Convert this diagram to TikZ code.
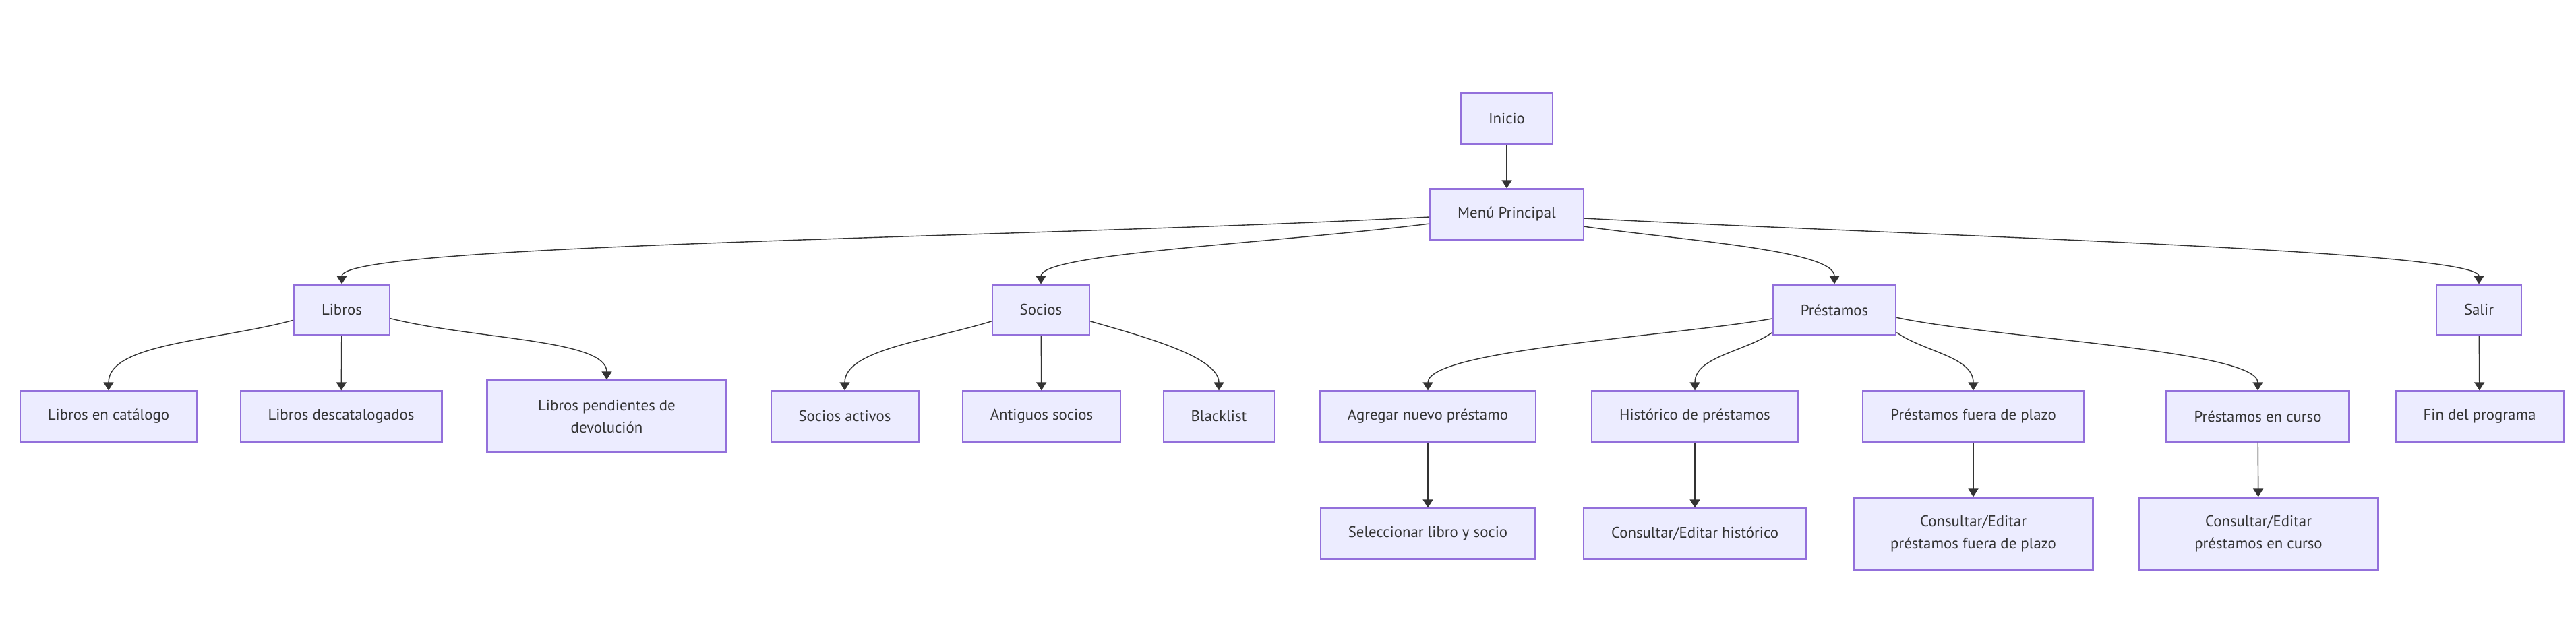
\documentclass[tikz,border=0pt]{standalone}
\usepackage{fontspec}
\setmainfont{PT Sans}
\usetikzlibrary{arrows.meta}
\definecolor{boxfill}{HTML}{ECECFF}
\definecolor{boxline}{HTML}{9370DB}
\definecolor{ink}{HTML}{333333}
\begin{document}
\begin{tikzpicture}[
  box/.style={draw=boxline, fill=boxfill, line width=0.6pt, text=ink, minimum height=0.75cm, inner xsep=0.41cm, font=\fontsize{6.5}{9.4}\selectfont},
  box2/.style={box, align=center, minimum width=3.55cm, minimum height=1.07cm},
  arr/.style={draw=ink, line width=0.4pt, -{Triangle[length=0.12cm, width=0.15cm]}}
]
\useasboundingbox (0,0) rectangle (38.21,9.43);
\node[box] (inicio) at (22.35,7.67) {Inicio};
\node[box] (menu) at (22.35,6.25) {Menú Principal};
\node[box] (libros) at (5.07,4.83) {Libros};
\node[box] (socios) at (15.44,4.83) {Socios};
\node[box] (prestamos) at (27.21,4.83) {Préstamos};
\node[box] (salir) at (36.77,4.83) {Salir};
\node[box] (catalogo) at (1.61,3.25) {Libros en catálogo};
\node[box] (descat) at (5.06,3.25) {Libros descatalogados};
\node[box2] (pendientes) at (9.00,3.25) {Libros pendientes de\\devolución};
\node[box] (activos) at (12.53,3.25) {Socios activos};
\node[box] (antiguos) at (15.45,3.25) {Antiguos socios};
\node[box] (blacklist) at (18.08,3.25) {Blacklist};
\node[box] (agregar) at (21.18,3.25) {Agregar nuevo préstamo};
\node[box] (historico) at (25.14,3.25) {Histórico de préstamos};
\node[box] (fuera) at (29.27,3.25) {Préstamos fuera de plazo};
\node[box] (encurso) at (33.49,3.25) {Préstamos en curso};
\node[box] (fin) at (36.78,3.25) {Fin del programa};
\node[box] (seleccionar) at (21.18,1.51) {Seleccionar libro y socio};
\node[box] (conshist) at (25.14,1.51) {Consultar/Editar histórico};
\node[box2] (consfuera) at (29.27,1.51) {Consultar/Editar\\préstamos fuera de plazo};
\node[box2] (conscurso) at (33.50,1.51) {Consultar/Editar\\préstamos en curso};
\draw[arr] (inicio) -- (menu);
\draw[arr] (menu.182) to[out=183, in=90, out distance=6cm, in distance=0.6cm] (libros.north);
\draw[arr] (menu.187) to[out=187, in=90, out distance=2.5cm, in distance=0.45cm] (socios.north);
\draw[arr] (menu.351) to[out=-8, in=90, out distance=1.5cm, in distance=0.5cm] (prestamos.north);
\draw[arr] (menu.357) to[out=-3, in=90, out distance=5cm, in distance=0.5cm] (salir.north);
\draw[arr] (libros.192) to[out=195, in=90, out distance=1.2cm, in distance=0.7cm] (catalogo.north);
\draw[arr] (libros) -- (descat);
\draw[arr] (libros.350) to[out=-14, in=90, out distance=1.3cm, in distance=0.6cm] (pendientes.north);
\draw[arr] (socios.193) to[out=197, in=90, out distance=1cm, in distance=0.6cm] (activos.north);
\draw[arr] (socios) -- (antiguos);
\draw[arr] (socios.347) to[out=-16, in=90, out distance=0.8cm, in distance=0.5cm] (blacklist.north);
\draw[arr] (prestamos.188) to[out=190, in=90, out distance=1.5cm, in distance=0.6cm] (agregar.north);
\draw[arr] (prestamos.200) to[out=215, in=90, out distance=0.5cm, in distance=0.5cm] (historico.north);
\draw[arr] (prestamos.340) to[out=-35, in=90, out distance=0.5cm, in distance=0.5cm] (fuera.north);
\draw[arr] (prestamos.353) to[out=-12, in=90, out distance=1.5cm, in distance=0.6cm] (encurso.north);
\draw[arr] (salir) -- (fin);
\draw[arr] (agregar) -- (seleccionar);
\draw[arr] (historico) -- (conshist);
\draw[arr] (fuera) -- (consfuera);
\draw[arr] (encurso) -- (conscurso);
\end{tikzpicture}
\end{document}
